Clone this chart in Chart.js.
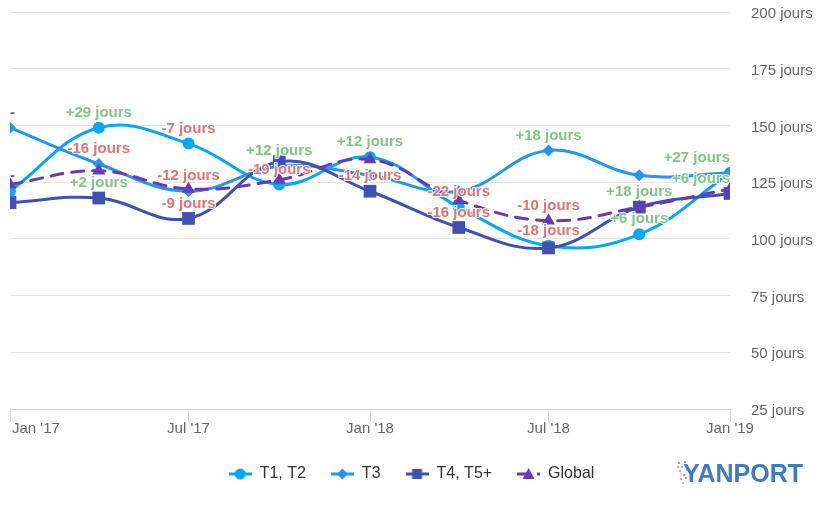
<!DOCTYPE html>
<html><head><meta charset="utf-8">
<script src="https://cdn.jsdelivr.net/npm/chart.js@4.4.1/dist/chart.umd.min.js"></script>
<style>html,body{margin:0;padding:0;background:#fff;}canvas{display:block;}</style>
</head><body>
<canvas id="c" width="827" height="505"></canvas>
<script>
// ---- data ----
const quarters = ['2017-01-01','2017-04-01','2017-07-01','2017-10-01','2018-01-01','2018-04-01','2018-07-01','2018-10-01','2019-01-01'];
const seriesNames = ['T1, T2','T3','T4, T5+','Global'];
const t1Values = [121,149,142,124,136,114,97,102,129];
const t3Values = [149,133,121,132,128,121,139,128,129];
const t4Values = [116,118,109,134,121,105,96,114,120];
const globalValues = [124,130,122,126,135,117,108,114,122];
const t1Labels = ['-','+29 jours','-7 jours','-19 jours','+12 jours','-22 jours','-18 jours','+6 jours','+27 jours'];
const t3Labels = ['-','-16 jours','-12 jours','+12 jours',null,null,'+18 jours',null,null];
const t4Labels = [null,'+2 jours','-9 jours',null,'-14 jours','-16 jours',null,'+18 jours','+6 jours'];
const globalLabels = [null,null,null,null,null,null,'-10 jours',null,null];
const xTickDates = ['2017-01-01','2017-07-01','2018-01-01','2018-07-01','2019-01-01'];
const xTickLabels = ["Jan '17","Jul '17","Jan '18","Jul '18","Jan '19"];
const yTicks = [25,50,75,100,125,150,175,200];
const yUnit = ' jours';

// ---- helpers ----
const toMs = s => Date.parse(s + 'T00:00:00Z');
const xs = quarters.map(toMs);
const pts = vals => vals.map((v, i) => ({x: xs[i], y: v}));
const labelSets = [t1Labels, t3Labels, t4Labels, globalLabels];
const colors = ['#03a9f4', '#2196f3', '#3f51b5', '#673ab7'];
const FONT = '"Liberation Sans", Arial, sans-serif';

function makeSymbol(color, shape, dash) {
  const c = document.createElement('canvas');
  c.width = 23; c.height = 16;
  const g = c.getContext('2d');
  g.strokeStyle = color; g.lineWidth = 3;
  if (dash) g.setLineDash(dash);
  g.beginPath(); g.moveTo(0, 8); g.lineTo(23, 8); g.stroke();
  g.setLineDash([]);
  g.fillStyle = color;
  g.beginPath();
  const cx = 11.5, cy = 8;
  if (shape === 'circle') { g.arc(cx, cy, 5.5, 0, Math.PI * 2); }
  else if (shape === 'diamond') { g.moveTo(cx, cy - 5.5); g.lineTo(cx + 5.5, cy); g.lineTo(cx, cy + 5.5); g.lineTo(cx - 5.5, cy); g.closePath(); }
  else if (shape === 'square') { g.rect(cx - 5, cy - 5, 10, 10); }
  else { g.moveTo(cx, cy - 6); g.lineTo(cx + 6, cy + 5); g.lineTo(cx - 6, cy + 5); g.closePath(); }
  g.fill();
  return c;
}
const symbols = [
  makeSymbol(colors[0], 'circle'),
  makeSymbol(colors[1], 'diamond'),
  makeSymbol(colors[2], 'square'),
  makeSymbol(colors[3], 'triangle', [12, 8])
];

const xLabelPlugin = {
  id: 'xLabels',
  afterDraw(chart) {
    const s = chart.scales.x, ctx = chart.ctx;
    ctx.save();
    ctx.font = '15px ' + FONT;
    ctx.fillStyle = '#666666';
    ctx.textBaseline = 'middle';
    ctx.textAlign = 'left';
    xTickDates.forEach((d, i) => {
      const px = s.getPixelForValue(toMs(d));
      const w = ctx.measureText(xTickLabels[i]).width;
      let x = px - w / 2;
      if (x < s.left + 2) x = s.left + 2;
      ctx.fillText(xTickLabels[i], x, s.top + 20);
    });
    ctx.restore();
  }
};

const dataLabelPlugin = {
  id: 'dataLabels',
  afterDatasetsDraw(chart) {
    const ctx = chart.ctx, area = chart.chartArea;
    ctx.save();
    ctx.font = 'bold 15px ' + FONT;
    ctx.textBaseline = 'middle';
    ctx.textAlign = 'left';
    ctx.lineJoin = 'round';
    chart.data.datasets.forEach((ds, di) => {
      const meta = chart.getDatasetMeta(di);
      meta.data.forEach((el, i) => {
        const txt = labelSets[di][i];
        if (!txt) return;
        const w = ctx.measureText(txt).width;
        let x = el.x - w / 2;
        if (x < area.left) x = area.left;
        if (x + w > area.right) x = area.right - w;
        const y = el.y - 15;
        ctx.strokeStyle = 'rgba(255,255,255,0.9)';
        ctx.lineWidth = 2;
        ctx.strokeText(txt, x, y);
        ctx.fillStyle = txt[0] === '+' ? '#81c784' : (txt === '-' ? '#666666' : '#e57373');
        ctx.fillText(txt, x, y);
      });
    });
    ctx.restore();
  }
};

const logoPlugin = {
  id: 'logo',
  afterDraw(chart) {
    const ctx = chart.ctx;
    ctx.save();
    const dots = [[678,462,'#e88'],[681,466,'#9bd'],[684,461,'#6ad'],[679,470,'#c9c'],[683,474,'#7ae'],[680,478,'#e99'],[686,469,'#8be'],[682,482,'#9cd'],[677,466,'#abd'],[685,477,'#6ad']];
    dots.forEach(([x, y, c]) => { ctx.fillStyle = c; ctx.fillRect(x, y, 2, 2); });
    ctx.font = 'bold 25px ' + FONT;
    ctx.fillStyle = '#3d7cc0';
    ctx.textBaseline = 'alphabetic';
    ctx.textAlign = 'left';
    const txt = 'YANPORT';
    const w = ctx.measureText(txt).width;
    ctx.translate(683, 482);
    ctx.scale(120 / w, 1);
    ctx.fillText(txt, 0, 0);
    ctx.restore();
  }
};

const mk = (i, vals, style, radius, order, extra) => Object.assign({
  label: seriesNames[i],
  data: pts(vals),
  borderColor: colors[i],
  backgroundColor: colors[i],
  pointBackgroundColor: colors[i],
  pointBorderWidth: 0,
  pointStyle: style,
  pointRadius: radius,
  borderWidth: 3,
  tension: 0.4,
  fill: false,
  order: order
}, extra || {});

new Chart(document.getElementById('c'), {
  type: 'line',
  data: {
    datasets: [
      mk(0, t1Values, 'circle', 6, 3),
      mk(1, t3Values, 'rectRot', 6, 2),
      mk(2, t4Values, 'rect', 9, 1),
      mk(3, globalValues, 'triangle', 7.5, 0, {borderDash: [12, 9], borderCapStyle: 'round'})
    ]
  },
  options: {
    responsive: false,
    animation: false,
    layout: {padding: {left: 10, right: 14, top: 12, bottom: 13}},
    plugins: {
      tooltip: {enabled: false},
      legend: {
        position: 'bottom',
        labels: {
          usePointStyle: true,
          pointStyleWidth: 23,
          padding: 25,
          color: '#333333',
          font: {family: FONT, size: 16},
          generateLabels: chart => chart.data.datasets.map((ds, i) => ({
            text: ds.label, pointStyle: symbols[i], fillStyle: ds.borderColor,
            strokeStyle: ds.borderColor, lineWidth: 0, hidden: false,
            datasetIndex: i, fontColor: '#333333'
          }))
        }
      }
    },
    scales: {
      x: {
        type: 'linear',
        position: 'bottom',
        min: xs[0],
        max: xs[xs.length - 1],
        afterBuildTicks: s => { s.ticks = xTickDates.map(d => ({value: toMs(d)})); },
        afterFit: s => { s.height = 32; s.paddingLeft = 0; s.paddingRight = 0; },
        ticks: {display: false},
        grid: {drawOnChartArea: false, drawTicks: true, tickLength: 13, color: '#ccd6eb', lineWidth: 1},
        border: {display: true, color: '#ccd6eb', width: 1}
      },
      y: {
        position: 'right',
        min: yTicks[0],
        max: yTicks[yTicks.length - 1],
        afterBuildTicks: s => { s.ticks = yTicks.map(v => ({value: v})); },
        afterFit: s => { s.width = 83; s.paddingTop = 0; s.paddingBottom = 0; },
        ticks: {padding: 21, labelOffset: 2, color: '#666666', font: {family: FONT, size: 15}, callback: v => v + yUnit},
        grid: {color: '#e6e6e6', drawTicks: false, lineWidth: 1},
        border: {display: false}
      }
    }
  },
  plugins: [xLabelPlugin, dataLabelPlugin, logoPlugin]
});
</script>
</body></html>
